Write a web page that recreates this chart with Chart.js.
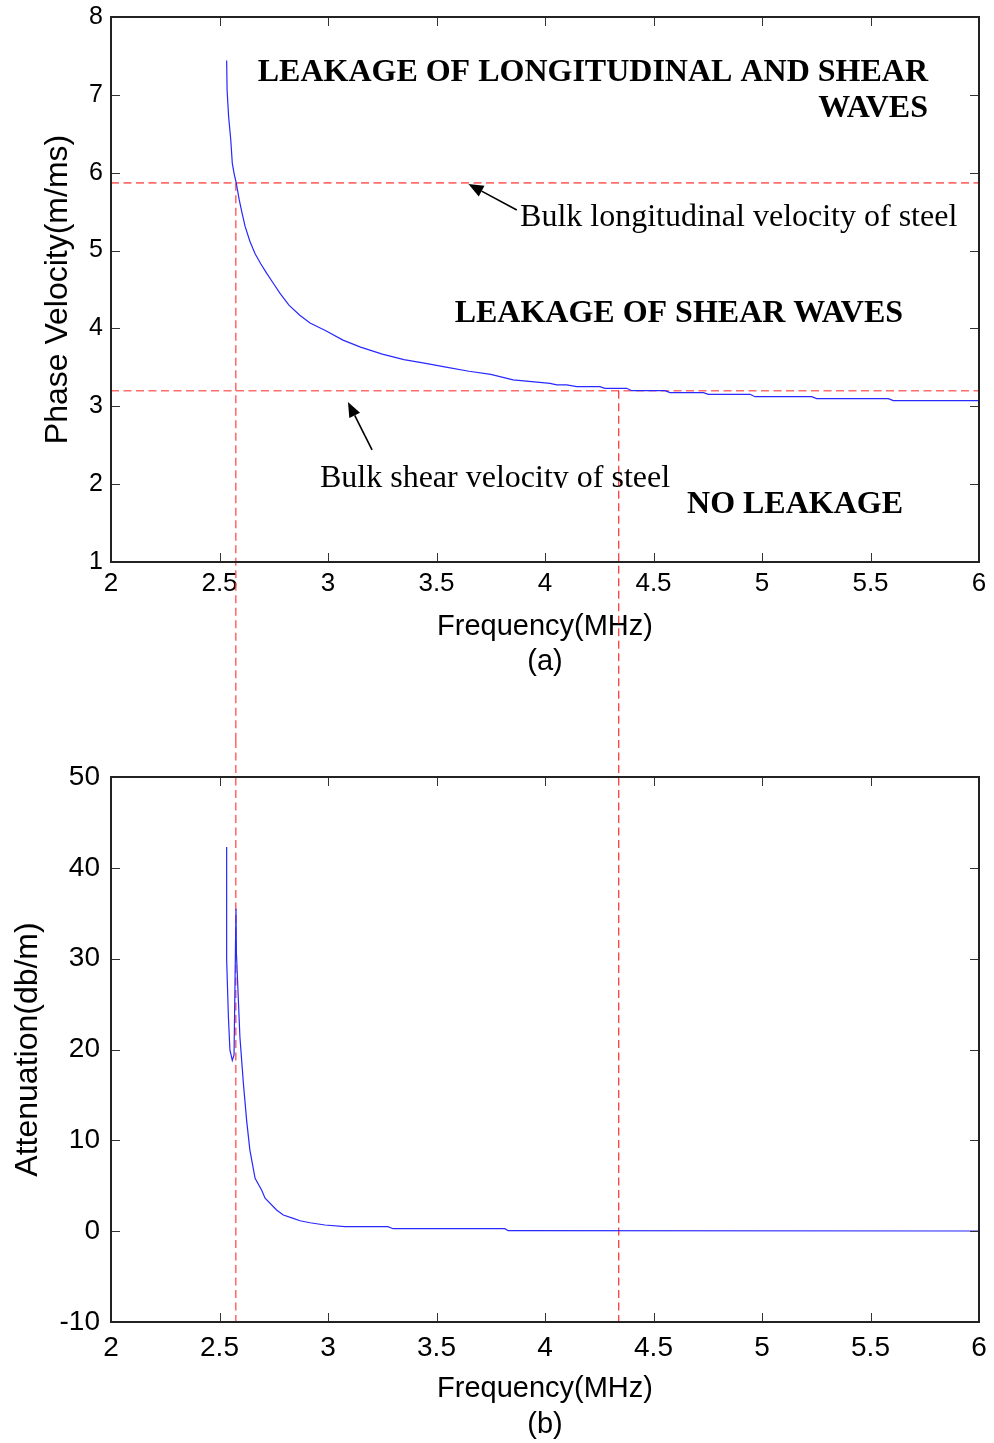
<!DOCTYPE html>
<html>
<head>
<meta charset="utf-8">
<script src="https://cdn.jsdelivr.net/npm/chart.js@4.4.0/dist/chart.umd.min.js"></script>
<style>
  body { margin: 0; background: #fff; }
  #wrap { position: relative; width: 994px; height: 1443px; }
  #grafico-a { position: absolute; left: 0; top: 0; }
  #grafico-b { position: absolute; left: 0; top: 740px; }
</style>
</head>
<body>
<div id="wrap">
  <canvas id="grafico-a" width="994" height="740"></canvas>
  <canvas id="grafico-b" width="994" height="703"></canvas>
</div>
<script>
// Panel (a): frequency (MHz) vs phase velocity (m/ms)
const freqA = [2.533, 2.535, 2.542, 2.552, 2.559, 2.568, 2.577, 2.591, 2.604, 2.618, 2.640, 2.664, 2.690,
  2.717, 2.748, 2.779, 2.820, 2.870, 2.917, 2.990, 3.069, 3.150, 3.250, 3.350, 3.450, 3.550, 3.650, 3.750,
  3.853, 3.963, 4.023, 4.054, 4.100, 4.146, 4.253, 4.276, 4.376, 4.400, 4.553, 4.576, 4.730, 4.753, 4.945,
  4.968, 5.229, 5.252, 5.582, 5.605, 6.000];
const velA = [7.44, 7.06, 6.72, 6.42, 6.12, 5.98, 5.87, 5.65, 5.48, 5.31, 5.12, 4.96, 4.83,
  4.71, 4.58, 4.45, 4.30, 4.17, 4.07, 3.97, 3.85, 3.76, 3.67, 3.60, 3.55, 3.50, 3.45, 3.41,
  3.34, 3.31, 3.295, 3.274, 3.274, 3.252, 3.252, 3.231, 3.231, 3.200, 3.200, 3.175, 3.175, 3.154, 3.154,
  3.123, 3.123, 3.098, 3.098, 3.072, 3.072];

// Panel (b): frequency (MHz) vs attenuation (dB/m)
const freqB = [2.533, 2.533, 2.541, 2.548, 2.559, 2.567, 2.576, 2.578, 2.594, 2.610, 2.625, 2.640, 2.664,
  2.694, 2.710, 2.763, 2.794, 2.840, 2.871, 2.917, 2.986, 3.078, 3.276, 3.300, 3.815, 3.830, 6.000];
const attB = [42.3, 29.85, 23.6, 19.95, 18.8, 19.4, 35.5, 30.6, 21.4, 16.3, 12.2, 8.93, 5.82,
  4.53, 3.62, 2.33, 1.78, 1.41, 1.15, 0.93, 0.68, 0.49, 0.49, 0.27, 0.27, 0.05, 0.02];

// Bulk velocities of steel (m/ms) and the frequencies where the curve reaches them
const bulkVel = [5.87, 3.20];
const bulkFreq = [2.575, 4.34];

// Tick labels
const xTicks = [2, 2.5, 3, 3.5, 4, 4.5, 5, 5.5, 6];
const yTicksA = [1, 2, 3, 4, 5, 6, 7, 8];
const yTicksB = [-10, 0, 10, 20, 30, 40, 50];

const SANS = 'Arial, "Liberation Sans", Helvetica, sans-serif';
const SERIF = '"Times New Roman", "Liberation Serif", serif';
const AZUL = 'rgb(40, 40, 255)';
const ROJO_CLARO = 'rgba(255, 60, 60, 0.75)';

// Annotations of panel (a), in data units
const textosA = [
  { text: 'LEAKAGE OF LONGITUDINAL AND SHEAR', x: 5.765, y: 7.178, bold: true, align: 'right' },
  { text: 'WAVES', x: 5.765, y: 6.716, bold: true, align: 'right' },
  { text: 'LEAKAGE OF SHEAR WAVES', x: 5.650, y: 4.082, bold: true, align: 'right' },
  { text: 'NO LEAKAGE', x: 5.650, y: 1.630, bold: true, align: 'right' },
  { text: 'Bulk longitudinal velocity of steel', x: 3.885, y: 5.315, bold: false, align: 'left' },
  { text: 'Bulk shear velocity of steel', x: 2.963, y: 1.963, bold: false, align: 'left', clip: true }
];
const flechasA = [
  { from: [3.870, 5.521], to: [3.647, 5.855] },
  { from: [3.203, 2.439], to: [3.092, 3.055] }
];

function puntos(xs, ys) {
  return xs.map((x, i) => ({ x: x, y: ys[i] }));
}

function lineaDiscontinua(ctx, x1, y1, x2, y2, color, ancho) {
  ctx.save();
  ctx.strokeStyle = color;
  ctx.lineWidth = ancho;
  ctx.setLineDash([8, 4.5]);
  ctx.beginPath();
  ctx.moveTo(x1, y1);
  ctx.lineTo(x2, y2);
  ctx.stroke();
  ctx.restore();
}

// Box with inward ticks on all four sides (MATLAB style)
function dibujarMarco(chart) {
  const { ctx, chartArea: a, scales: { x, y } } = chart;
  ctx.save();
  ctx.strokeStyle = '#333';
  ctx.lineWidth = 1;
  ctx.beginPath();
  x.ticks.forEach(t => {
    const px = Math.round(x.getPixelForValue(t.value)) + 0.5;
    ctx.moveTo(px, a.bottom); ctx.lineTo(px, a.bottom - 9);
    ctx.moveTo(px, a.top); ctx.lineTo(px, a.top + 9);
  });
  y.ticks.forEach(t => {
    const py = Math.round(y.getPixelForValue(t.value)) + 0.5;
    ctx.moveTo(a.left, py); ctx.lineTo(a.left + 9, py);
    ctx.moveTo(a.right, py); ctx.lineTo(a.right - 9, py);
  });
  ctx.stroke();
  ctx.strokeStyle = '#222';
  ctx.lineWidth = 2;
  ctx.strokeRect(a.left, a.top, a.width, a.height);
  ctx.restore();
}

const pluginA = {
  id: 'extrasA',
  beforeDatasetsDraw(chart) {
    const { ctx, chartArea: a, scales: { x, y } } = chart;
    // horizontal bulk velocity lines
    bulkVel.forEach(v => {
      const py = y.getPixelForValue(v);
      lineaDiscontinua(ctx, a.left, py, a.right, py, ROJO_CLARO, 1.6);
    });
    // vertical lines, continued down through the gap to panel (b)
    lineaDiscontinua(ctx, x.getPixelForValue(bulkFreq[0]), y.getPixelForValue(bulkVel[0]),
      x.getPixelForValue(bulkFreq[0]), chart.height, ROJO_CLARO, 1.6);
    lineaDiscontinua(ctx, x.getPixelForValue(bulkFreq[1]), y.getPixelForValue(bulkVel[1]),
      x.getPixelForValue(bulkFreq[1]), chart.height, 'rgb(255, 0, 0)', 1);
  },
  afterDatasetsDraw(chart) {
    const { ctx, scales: { x, y } } = chart;
    dibujarMarco(chart);
    ctx.save();
    ctx.fillStyle = '#000';
    ctx.textBaseline = 'alphabetic';
    textosA.forEach(t => {
      const px = x.getPixelForValue(t.x);
      const py = y.getPixelForValue(t.y);
      ctx.font = (t.bold ? 'bold 32px ' : '32px ') + SERIF;
      ctx.textAlign = t.align;
      ctx.save();
      if (t.clip) {
        // the original figure cuts this label at its baseline
        ctx.beginPath();
        ctx.rect(0, 0, chart.width, py + 1);
        ctx.clip();
      }
      ctx.fillText(t.text, px, py);
      ctx.restore();
    });
    ctx.strokeStyle = '#000';
    ctx.lineWidth = 1.6;
    flechasA.forEach(f => {
      const x1 = x.getPixelForValue(f.from[0]), y1 = y.getPixelForValue(f.from[1]);
      const x2 = x.getPixelForValue(f.to[0]), y2 = y.getPixelForValue(f.to[1]);
      const ang = Math.atan2(y2 - y1, x2 - x1);
      const largo = 15, medio = 6;
      const bx = x2 - largo * Math.cos(ang), by = y2 - largo * Math.sin(ang);
      ctx.beginPath();
      ctx.moveTo(x1, y1);
      ctx.lineTo(bx, by);
      ctx.stroke();
      ctx.beginPath();
      ctx.moveTo(x2, y2);
      ctx.lineTo(bx + medio * Math.sin(ang), by - medio * Math.cos(ang));
      ctx.lineTo(bx - medio * Math.sin(ang), by + medio * Math.cos(ang));
      ctx.closePath();
      ctx.fill();
    });
    ctx.restore();
  }
};

const pluginB = {
  id: 'extrasB',
  beforeDatasetsDraw(chart) {
    const { chartArea: a, scales: { x } } = chart;
    lineaDiscontinua(chart.ctx, x.getPixelForValue(bulkFreq[0]), 0,
      x.getPixelForValue(bulkFreq[0]), a.bottom, ROJO_CLARO, 1.6);
    lineaDiscontinua(chart.ctx, x.getPixelForValue(bulkFreq[1]), 0,
      x.getPixelForValue(bulkFreq[1]), a.bottom, 'rgb(255, 0, 0)', 1);
  },
  afterDatasetsDraw(chart) {
    dibujarMarco(chart);
  }
};

function crearGrafico(canvasId, datos, p) {
  return new Chart(document.getElementById(canvasId), {
    type: 'line',
    data: {
      datasets: [{
        data: datos,
        borderColor: AZUL,
        borderWidth: 1.2,
        pointRadius: 0,
        tension: 0,
        fill: false
      }]
    },
    options: {
      responsive: false,
      animation: false,
      events: [],
      layout: { padding: { left: 0, right: 15, top: p.padTop, bottom: 0 } },
      plugins: { legend: { display: false }, tooltip: { enabled: false } },
      scales: {
        x: {
          type: 'linear',
          min: 2,
          max: 6,
          afterBuildTicks: s => { s.ticks = xTicks.map(v => ({ value: v })); },
          afterFit: s => { s.height = p.xAxisH; s.paddingLeft = 0; s.paddingRight = 0; },
          grid: { display: false, drawTicks: false },
          border: { display: false },
          ticks: {
            color: '#000',
            padding: p.xTickPad,
            maxRotation: 0,
            autoSkip: false,
            callback: v => String(v),
            font: { family: SANS, size: p.xTickSize, lineHeight: 1 }
          },
          title: {
            display: true,
            text: p.xTitle,
            color: '#000',
            padding: { top: 0, bottom: p.xTitlePad },
            font: { family: SANS, size: 29, lineHeight: p.xTitleLh }
          }
        },
        y: {
          type: 'linear',
          min: p.yMin,
          max: p.yMax,
          afterBuildTicks: s => { s.ticks = p.yTicks.map(v => ({ value: v })); },
          afterFit: s => { s.width = 111; s.paddingTop = 0; s.paddingBottom = 0; },
          grid: { display: false, drawTicks: false },
          border: { display: false },
          ticks: {
            color: '#000',
            padding: p.yTickPad,
            autoSkip: false,
            callback: v => String(v),
            font: { family: SANS, size: p.yTickSize, lineHeight: 1 }
          },
          title: {
            display: true,
            text: p.yTitle,
            color: '#000',
            padding: { top: p.yTitlePad, bottom: 0 },
            font: { family: SANS, size: 32 }
          }
        }
      }
    },
    plugins: [p.plugin]
  });
}

document.addEventListener('DOMContentLoaded', () => {
  crearGrafico('grafico-a', puntos(freqA, velA), {
    padTop: 17, xAxisH: 178, xTickPad: 9, xTickSize: 26, yTickPad: 8, yTickSize: 25,
    xTitle: ['Frequency(MHz)', '(a)'], xTitlePad: 60.5, xTitleLh: '35px',
    yTitle: 'Phase Velocity(m/ms)', yTitlePad: 39,
    yMin: 1, yMax: 8, yTicks: yTicksA, plugin: pluginA
  });
  crearGrafico('grafico-b', puntos(freqB, attB), {
    padTop: 37, xAxisH: 121, xTickPad: 12, xTickSize: 28, yTickPad: 11, yTickSize: 28,
    xTitle: ['Frequency(MHz)', '(b)'], xTitlePad: 0, xTitleLh: '36px',
    yTitle: 'Attenuation(db/m)', yTitlePad: 9,
    yMin: -10, yMax: 50, yTicks: yTicksB, plugin: pluginB
  });
});
</script>
</body>
</html>
